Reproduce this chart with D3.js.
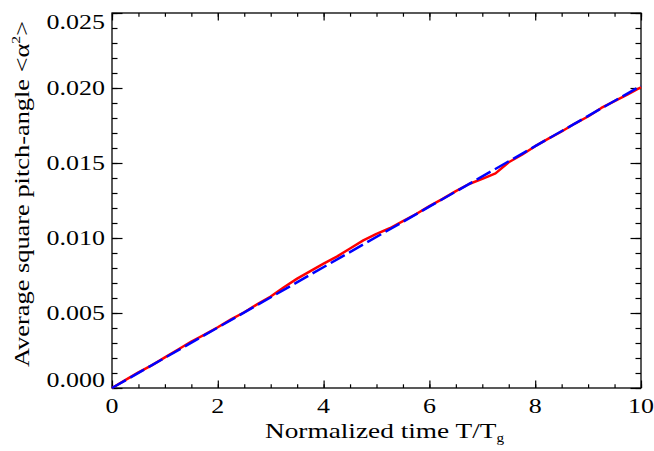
<!DOCTYPE html>
<meta charset="utf-8">
<html>
<head>
<style>
  body { margin: 0; background: #fff; }
  text { font-family: "Liberation Serif", "Times New Roman", serif; fill: #000; }
</style>
</head>
<body>
<div id="chart"></div>
<script src="https://d3js.org/d3.v7.min.js"></script>
<script>

  // Normalized time T/Tg
  var times = [0, 0.25, 0.5, 0.75, 1, 1.25, 1.5, 1.75, 2, 2.25, 2.5, 2.75, 3, 3.25, 3.5, 3.75,
               4, 4.25, 4.5, 4.75, 5, 5.25, 5.5, 5.75, 6, 6.25, 6.5, 6.75, 7, 7.25, 7.5, 7.75,
               8, 8.25, 8.5, 8.75, 9, 9.25, 9.5, 9.75, 10];

  // simulated average square pitch-angle (red, solid)
  var alphaSim = [0, 0.00052, 0.00104, 0.00151, 0.00204, 0.00257, 0.00310, 0.00356, 0.00405, 0.00457,
                  0.00505, 0.00559, 0.00610, 0.00672, 0.00729, 0.00779, 0.00829, 0.00876, 0.00930, 0.00984,
                  0.01028, 0.01065, 0.01112, 0.01160, 0.01212, 0.01261, 0.01313, 0.01360, 0.01394, 0.01431,
                  0.01505, 0.01555, 0.01612, 0.01662, 0.01710, 0.01763, 0.01810, 0.01867, 0.01912, 0.01958,
                  0.02005];

  // linear fit (blue, dashed)
  var fitTimes = [0, 10];
  var fitValues = [0, 0.02015];

  var xTicks = [0, 2, 4, 6, 8, 10];
  var xMinor = d3.range(0, 10.01, 0.5);
  var yTicks = [0, 0.005, 0.010, 0.015, 0.020, 0.025];
  var yTickLabels = ["0.000", "0.005", "0.010", "0.015", "0.020", "0.025"];
  var yMinor = d3.range(0, 0.02501, 0.001);

  var W = 654, H = 451;
  var margin = {top: 13, right: 13, bottom: 63, left: 112},
      width = W - margin.left - margin.right,
      height = H - margin.top - margin.bottom;

  var svg = d3.select("#chart")
    .append("svg")
      .attr("width", W)
      .attr("height", H)
    .append("g")
      .attr("transform", "translate(" + margin.left + "," + margin.top + ")");

  var x = d3.scaleLinear().domain([0, 10]).range([0, width]);
  var y = d3.scaleLinear().domain([0, 0.025]).range([height, 0]);

  // axes with inward ticks on all four sides
  function styleAxis(g) {
    g.select(".domain").remove();
    g.selectAll("line").attr("stroke", "#000").attr("stroke-width", 1.2);
  }
  var none = function() { return ""; };

  svg.append("g").attr("transform", "translate(0," + height + ")")
    .call(d3.axisBottom(x).tickValues(xMinor).tickSize(-3.7).tickFormat(none)).call(styleAxis);
  svg.append("g").attr("transform", "translate(0," + height + ")")
    .call(d3.axisBottom(x).tickValues(xTicks).tickSize(-7.5).tickFormat(none)).call(styleAxis);
  svg.append("g")
    .call(d3.axisTop(x).tickValues(xMinor).tickSize(-3.7).tickFormat(none)).call(styleAxis);
  svg.append("g")
    .call(d3.axisTop(x).tickValues(xTicks).tickSize(-7.5).tickFormat(none)).call(styleAxis);

  svg.append("g")
    .call(d3.axisLeft(y).tickValues(yMinor).tickSize(-5.5).tickFormat(none)).call(styleAxis);
  svg.append("g")
    .call(d3.axisLeft(y).tickValues(yTicks).tickSize(-10.5).tickFormat(none)).call(styleAxis);
  svg.append("g").attr("transform", "translate(" + width + ",0)")
    .call(d3.axisRight(y).tickValues(yMinor).tickSize(-5.5).tickFormat(none)).call(styleAxis);
  svg.append("g").attr("transform", "translate(" + width + ",0)")
    .call(d3.axisRight(y).tickValues(yTicks).tickSize(-10.5).tickFormat(none)).call(styleAxis);

  // frame
  svg.append("rect")
    .attr("width", width).attr("height", height)
    .attr("fill", "none").attr("stroke", "#000").attr("stroke-width", 1.3);

  // tick labels
  svg.selectAll(".xlab").data(xTicks).enter().append("text")
    .attr("transform", function(d) { return "translate(" + x(d) + "," + (height + 25) + ") scale(1.18,1)"; })
    .attr("text-anchor", "middle")
    .style("font-size", "22px")
    .text(function(d) { return d; });

  svg.selectAll(".ylab").data(yTicks).enter().append("text")
    .attr("transform", function(d) {
      var cy = Math.max(8.5, Math.min(height - 8, y(d)));
      return "translate(-7," + cy + ") scale(1.18,1)";
    })
    .attr("text-anchor", "end")
    .attr("dy", "0.34em")
    .style("font-size", "22px")
    .text(function(d, i) { return yTickLabels[i]; });

  // axis titles
  var xt = svg.append("text")
    .attr("transform", "translate(" + (width / 2 + 8) + "," + (height + 49.5) + ") scale(1.27,1)")
    .attr("text-anchor", "middle")
    .style("font-size", "21.5px");
  xt.append("tspan").text("Normalized time T/T");
  xt.append("tspan").attr("dy", 4).style("font-size", "12px").text("g");

  var yt = svg.append("text")
    .attr("transform", "translate(" + (-margin.left + 28.5) + "," + (height / 2 - 6.5) + ") rotate(-90) scale(1.2,1)")
    .attr("text-anchor", "middle")
    .style("font-size", "22px");
  yt.append("tspan").text("Average square pitch-angle <\u03b1");
  yt.append("tspan").attr("dy", -9).style("font-size", "13px").text("2");
  yt.append("tspan").attr("dy", 9).text(">");

  // lines
  var simLine = d3.line()
    .x(function(d, i) { return x(times[i]); })
    .y(function(d) { return y(d); });

  svg.append("path")
    .datum(alphaSim)
    .attr("fill", "none")
    .attr("stroke", "#ff0000")
    .attr("stroke-width", 2.5)
    .attr("stroke-linejoin", "round")
    .attr("d", simLine);

  var fitLine = d3.line()
    .x(function(d, i) { return x(fitTimes[i]); })
    .y(function(d) { return y(d); });

  svg.append("path")
    .datum(fitValues)
    .attr("fill", "none")
    .attr("stroke", "#0000ff")
    .attr("stroke-width", 2.5)
    .attr("stroke-dasharray", "16,5")
    .attr("d", fitLine);

</script>
</body>
</html>
